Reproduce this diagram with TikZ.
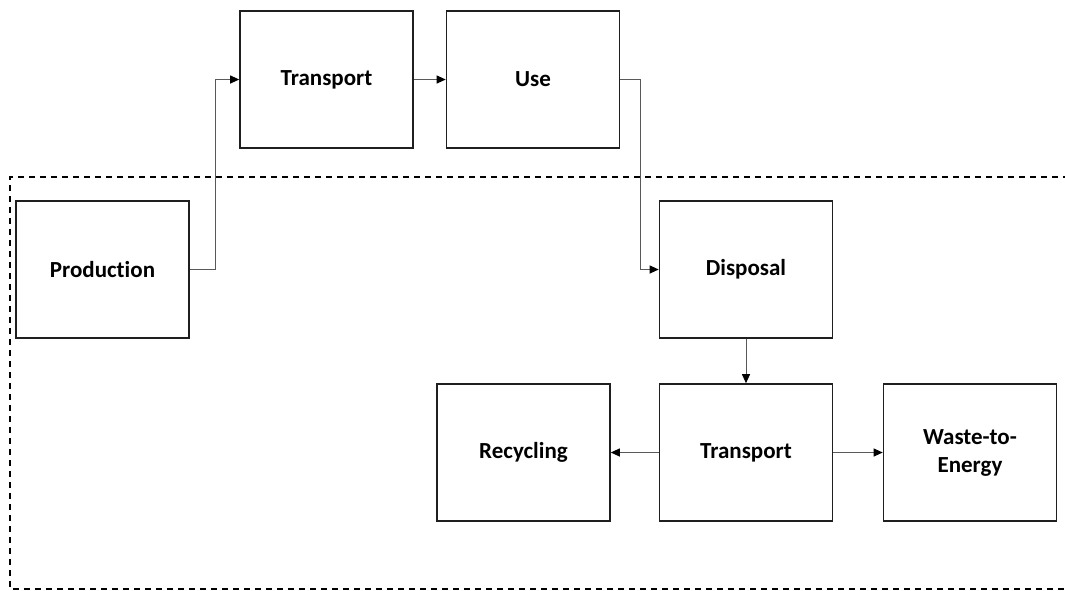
\documentclass[tikz,border=0pt]{standalone}
\usepackage{fontspec}
\setmainfont[Ligatures=NoCommon]{Carlito}
\usetikzlibrary{arrows.meta}
\tikzset{
  stagebox/.style={draw=black!88, line width=1.6pt, minimum width=173pt, minimum height=137pt, inner sep=0pt, align=center, font=\fontsize{23}{28}\selectfont\bfseries},
  flow/.style={draw=black!65, line width=1pt, -{Triangle[length=9pt,width=8pt,fill=black,color=black]}},
  region/.style={draw=black, line width=1.3pt, dash pattern=on 6pt off 5pt}
}
\begin{document}
\begin{tikzpicture}[x=1pt,y=-1pt]
\useasboundingbox (0,0) rectangle (1065,590);
\draw[region] (1080,177) -- (10,177) -- (10,589) -- (1080,589);
\node[stagebox] (prod) at (102.5,269.5) {Production};
\node[stagebox] (trtop) at (326.5,79.5) {Transport};
\node[stagebox] (use) at (533,79.5) {Use};
\node[stagebox] (disp) at (746,269.5) {Disposal};
\node[stagebox] (rec) at (523.5,452.5) {Recycling};
\node[stagebox] (trbot) at (746,452.5) {Transport};
\node[stagebox] (wte) at (970,452.5) {Waste-to-\\Energy};
\draw[flow] (prod.east) -- ++(26,0) |- (trtop.west);
\draw[flow] (trtop.east) -- (use.west);
\draw[flow] (use.east) -- ++(20,0) |- (disp.west);
\draw[flow] (disp.south) -- (trbot.north);
\draw[flow] (trbot.west) -- (rec.east);
\draw[flow] (trbot.east) -- (wte.west);
\end{tikzpicture}
\end{document}
